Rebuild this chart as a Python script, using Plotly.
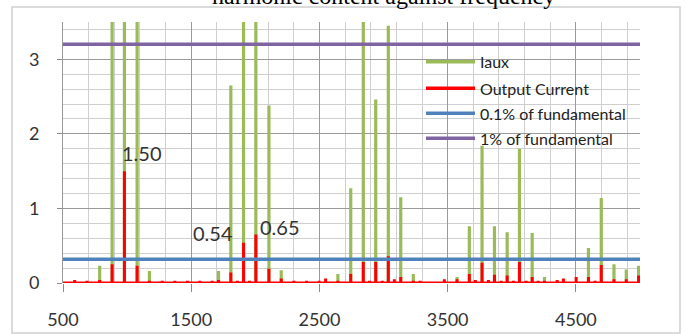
import plotly.graph_objects as go

# ---------------- data ----------------
red_freq = [500, 550, 591, 640, 687, 740, 786, 835, 883, 930, 979, 1030, 1078, 1125, 1174, 1225,
            1273, 1320, 1372, 1420, 1471, 1520, 1567, 1615, 1663, 1713, 1760, 1809, 1860, 1908,
            1955, 2004, 2055, 2106, 2155, 2202, 2250, 2301, 2350, 2400, 2450, 2498, 2548, 2595,
            2644, 2695, 2744, 2790, 2842, 2890, 2939, 2990, 3037, 3084, 3134, 3185, 3232, 3285,
            3330, 3380, 3425, 3474, 3520, 3573, 3620, 3669, 3716, 3768, 3818, 3865, 3917, 3964,
            4013, 4060, 4112, 4159, 4205, 4255, 4305, 4354, 4403, 4450, 4502, 4550, 4598, 4650,
            4698, 4750, 4797, 4845, 4893, 4940, 4989, 5000]
red_vals = [0.01, 0.02, 0.04, 0.02, 0.03, 0.02, 0.04, 0.02, 0.25, 0.02, 1.50, 0.02, 0.23, 0.02, 0.03, 0.02,
            0.03, 0.02, 0.03, 0.02, 0.03, 0.02, 0.03, 0.02, 0.03, 0.04, 0.02, 0.14, 0.03, 0.54,
            0.03, 0.65, 0.02, 0.19, 0.02, 0.06, 0.02, 0.03, 0.02, 0.03, 0.02, 0.03, 0.06, 0.02,
            0.03, 0.02, 0.12, 0.02, 0.28, 0.03, 0.28, 0.03, 0.36, 0.05, 0.08, 0.02, 0.03, 0.03,
            0.02, 0.02, 0.02, 0.05, 0.02, 0.05, 0.02, 0.12, 0.04, 0.27, 0.04, 0.11, 0.03, 0.10,
            0.03, 0.28, 0.03, 0.08, 0.03, 0.03, 0.02, 0.04, 0.06, 0.02, 0.08, 0.02, 0.08, 0.03,
            0.24, 0.02, 0.05, 0.02, 0.05, 0.02, 0.10, 0.01]

iaux_freq = [786, 883, 979, 1078, 1174, 1713, 1809, 1908, 2004, 2106, 2202, 2644, 2744, 2842,
             2939, 3037, 3134, 3232, 3573, 3669, 3768, 3865, 3964, 4060, 4159, 4255, 4598,
             4698, 4797, 4893, 4989]
iaux_vals = [0.23, 4.0, 4.0, 4.0, 0.16, 0.16, 2.65, 4.0, 4.0, 2.38, 0.17, 0.12, 1.27, 4.0,
             2.46, 3.45, 1.15, 0.12, 0.08, 0.76, 1.84, 0.76, 0.68, 1.80, 0.67, 0.08, 0.47,
             1.14, 0.25, 0.18, 0.23]

x_limits = [500, 5000]
limit_01 = 0.32   # 0.1% of fundamental
limit_1 = 3.2     # 1% of fundamental

labelled_freq = [979, 1908, 2004]
label_shift = [(18, 18), (-31, 10), (24, 8)]

x_ticks = [500, 1500, 2500, 3500, 4500]
y_ticks = [0, 1, 2, 3]

series_names = ["Iaux", "Output Current", "0.1% of fundamental", "1% of fundamental"]
colors = ["#9BBB59", "#FF0000", "#4F81BD", "#8064A2"]


def spikes(freqs, vals, gaps):
    xs, ys = [], []
    for f, v in zip(freqs, vals):
        xs += [f, f, f]
        ys += [0, v, 0]
        if gaps:
            xs.append(None)
            ys.append(None)
    return xs, ys


fig = go.Figure()
gx, gy = spikes(iaux_freq, iaux_vals, True)
fig.add_trace(go.Scatter(x=gx, y=gy, mode="lines", name=series_names[0],
                         line=dict(color=colors[0], width=3.2), showlegend=False))
rx, ry = spikes(red_freq, red_vals, False)
fig.add_trace(go.Scatter(x=rx, y=ry, mode="lines", name=series_names[1],
                         line=dict(color=colors[1], width=3), showlegend=False))
fig.add_trace(go.Scatter(x=x_limits, y=[limit_01, limit_01], mode="lines", name=series_names[2],
                         line=dict(color=colors[2], width=3.5), showlegend=False))
fig.add_trace(go.Scatter(x=x_limits, y=[limit_1, limit_1], mode="lines", name=series_names[3],
                         line=dict(color=colors[3], width=3.5), showlegend=False))

# data labels
for f, (dx, dy) in zip(labelled_freq, label_shift):
    v = red_vals[red_freq.index(f)]
    fig.add_annotation(x=f, y=v, text=f"{v:.2f}", showarrow=False, xshift=dx, yshift=dy,
                       font=dict(family="Lato", size=20, color="#333333"))

# custom legend
W, H = 690, 334
L, R, T, B = 63, 50, 22, 51
pw, ph = W - L - R, H - T - B


def px(xp):
    return (xp - L) / pw


def py(yp):
    return (H - B - yp) / ph


leg_y = [61.7, 88.3, 113.3, 138.3]
for name, col, yy in zip(series_names, colors, leg_y):
    fig.add_shape(type="line", xref="paper", yref="paper", x0=px(426), x1=px(475),
                  y0=py(yy), y1=py(yy), line=dict(color=col, width=3.5))
    fig.add_annotation(xref="paper", yref="paper", x=px(478), y=py(yy), text=name,
                       showarrow=False, xanchor="left", yanchor="middle",
                       font=dict(family="Lato", size=16, color="#222222"))

# chart-area border
fig.add_shape(type="rect", xref="paper", yref="paper", x0=px(12), x1=px(680),
              y0=py(333), y1=py(7), line=dict(color="#D0D0D0", width=1.5), layer="below")

# title (cut at the top in the reference)
fig.add_annotation(xref="paper", yref="paper", x=px(383), y=py(11), yanchor="bottom",
                   text="harmonic content against frequency", showarrow=False,
                   font=dict(family="Liberation Serif", size=24, color="#000000"))

fig.update_layout(
    width=W, height=H, margin=dict(l=L, r=R, t=T, b=B, autoexpand=False),
    paper_bgcolor="white", plot_bgcolor="white",
    font=dict(family="Lato", size=18, color="#333333"),
)
fig.update_xaxes(range=x_limits, tickmode="array", tickvals=x_ticks,
                 ticktext=[str(t) for t in x_ticks], automargin=False,
                 showgrid=True, gridcolor="#9A9A9A", gridwidth=1,
                 minor=dict(tickmode="linear", tick0=500, dtick=200, showgrid=True,
                            gridcolor="#CFCFCF", gridwidth=1),
                 ticks="outside", ticklen=8, tickcolor="#8A8A8A",
                 showline=False, zeroline=False, ticklabelstandoff=12,
                 tickfont=dict(family="Lato", size=18, color="#333333"))
fig.update_yaxes(range=[0, 3.5], tickmode="array", tickvals=y_ticks,
                 ticktext=[str(t) for t in y_ticks], automargin=False,
                 showgrid=True, gridcolor="#9A9A9A", gridwidth=1,
                 minor=dict(tickmode="linear", tick0=0, dtick=0.2, showgrid=True,
                            gridcolor="#CFCFCF", gridwidth=1),
                 ticks="outside", ticklen=5, tickcolor="#8A8A8A",
                 showline=True, linecolor="#9A9A9A", linewidth=1,
                 zeroline=False, ticklabelstandoff=14,
                 tickfont=dict(family="Lato", size=18, color="#333333"))

fig.write_html("out.html")
